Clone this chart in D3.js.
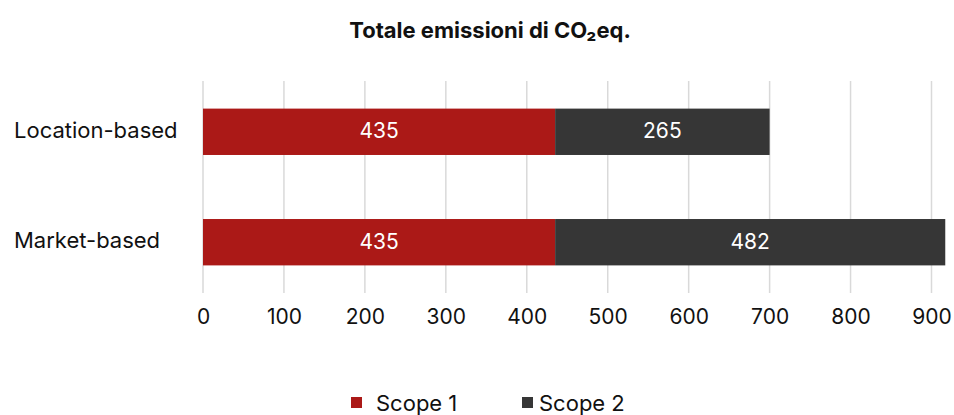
<!DOCTYPE html>
<html>
<head>
<meta charset="utf-8">
<style>
  body { margin: 0; background: #fff; }
  text { font-family: Inter, Roboto, "Liberation Sans", sans-serif; }
  .grid line { stroke: #d9d9d9; stroke-width: 1.5px; }
</style>
</head>
<body>
<script src="https://d3js.org/d3.v7.min.js"></script>
<script>
var categories = ["Location-based", "Market-based"];
var scope1 = [435, 435];
var scope2 = [265, 482];
var seriesNames = ["Scope 1", "Scope 2"];
var xTicks = [0, 100, 200, 300, 400, 500, 600, 700, 800, 900];
var colors = ["#ab1917", "#363636"];

var width = 954, height = 415;

var svg = d3.select("body").append("svg")
    .attr("width", width)
    .attr("height", height);

var x = d3.scaleLinear().domain([0, 900]).range([203, 931.5]);
var y = d3.scaleBand().domain(categories).range([81, 293]).paddingInner(0.58).paddingOuter(0.25);

// title
svg.append("text")
    .attr("x", 490).attr("y", 38)
    .attr("text-anchor", "middle")
    .style("font-size", "22px")
    .style("font-weight", "bold")
    .attr("fill", "#111")
    .text("Totale emissioni di CO₂eq.");

// gridlines
svg.append("g").attr("class", "grid")
    .selectAll("line")
    .data(xTicks)
    .enter().append("line")
    .attr("x1", function(d) { return x(d); })
    .attr("x2", function(d) { return x(d); })
    .attr("y1", 81)
    .attr("y2", 293);

// stacked data
var rows = categories.map(function(c, i) {
    return { cat: c, "Scope 1": scope1[i], "Scope 2": scope2[i] };
});
var stack = d3.stack().keys(seriesNames)(rows);

var layers = svg.append("g").selectAll("g")
    .data(stack)
    .enter().append("g")
    .attr("fill", function(d, i) { return colors[i]; });

layers.selectAll("rect")
    .data(function(d) { return d; })
    .enter().append("rect")
    .attr("x", function(d) { return x(d[0]); })
    .attr("y", function(d) { return y(d.data.cat); })
    .attr("width", function(d) { return x(d[1]) - x(d[0]); })
    .attr("height", y.bandwidth());

layers.selectAll("text")
    .data(function(d) { return d; })
    .enter().append("text")
    .attr("x", function(d) { return (x(d[0]) + x(d[1])) / 2; })
    .attr("y", function(d) { return y(d.data.cat) + y.bandwidth() / 2; })
    .attr("dy", "0.3em")
    .attr("text-anchor", "middle")
    .attr("fill", "#fff")
    .style("font-size", "21px")
    .text(function(d) { return d[1] - d[0]; });

// category labels
svg.append("g").selectAll("text")
    .data(categories)
    .enter().append("text")
    .attr("x", 14)
    .attr("y", function(d) { return y(d) + y.bandwidth() / 2; })
    .attr("dy", "0.28em")
    .attr("fill", "#111")
    .style("font-size", "22px")
    .text(function(d) { return d; });

// x axis labels
var xAxis = d3.axisBottom(x).tickValues(xTicks).tickSize(0).tickPadding(0);
var ax = svg.append("g")
    .attr("transform", "translate(0,309)")
    .call(xAxis);
ax.select(".domain").remove();
ax.selectAll("text")
    .style("font-family", "Inter, Roboto, sans-serif")
    .style("font-size", "21px")
    .attr("fill", "#111");

// legend
var legendX = [351, 522];
var legend = svg.append("g").selectAll("g")
    .data(seriesNames)
    .enter().append("g")
    .attr("transform", function(d, i) { return "translate(" + legendX[i] + ",397)"; });
legend.append("rect")
    .attr("width", 11).attr("height", 11)
    .attr("fill", function(d, i) { return colors[i]; });
legend.append("text")
    .attr("x", function(d, i) { return i === 0 ? 25 : 17; })
    .attr("y", 6)
    .attr("dy", "0.36em")
    .attr("fill", "#111")
    .style("font-size", "22px")
    .text(function(d) { return d; });
</script>
</body>
</html>
